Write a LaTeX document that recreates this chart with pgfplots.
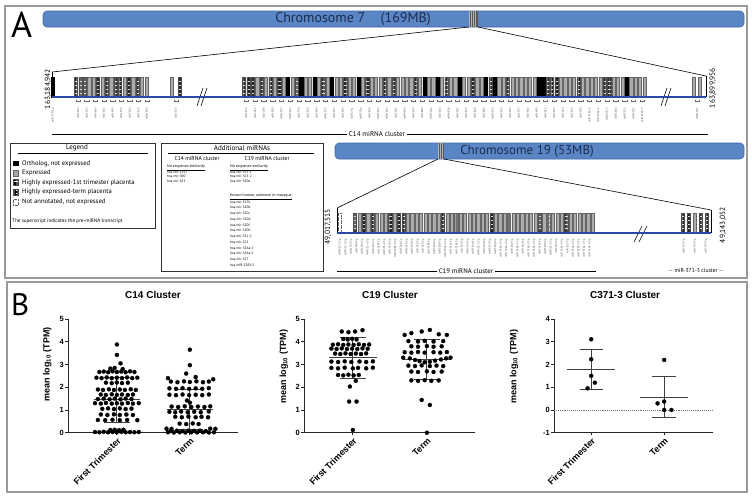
\documentclass[border=0pt]{standalone}
\usepackage{fontspec}
\setmainfont{Liberation Sans}
\newfontfamily\myr{PT Sans}
\usepackage{pgfplots}
\pgfplotsset{compat=1.18}
\usetikzlibrary{patterns,patterns.meta}

\definecolor{chrom}{HTML}{5A86C5}
\definecolor{chromedge}{HTML}{3E68A6}
\definecolor{chromtext}{HTML}{1D2B4F}
\definecolor{trackblue}{HTML}{2B49A8}
\definecolor{frame}{HTML}{9A9A9A}

\tikzset{
  lbl/.style={font=\myr\fontsize{2.8}{3}\selectfont, rotate=90, anchor=east, inner sep=0pt, text=black!75},
  txt/.style={font=\myr\fontsize{#1}{#1}\selectfont, inner sep=0pt},
}

\pgfplotsset{
  mibar/.style={ybar, bar width=3.2pt, bar shift=0pt, line width=0.25pt},
  graybar/.style={mibar, fill=black!33, draw=black!60},
  blackbar/.style={mibar, fill=black, draw=black},
  stripebar/.style={mibar, draw=black!70, fill=black!15,
    postaction={pattern={Lines[angle=0,distance=1.35pt,line width=0.55pt]}, pattern color=black!85}},
  checkbar/.style={mibar, draw=black!60, fill=white,
    postaction={pattern={Hatch[angle=0,distance=1.3pt,line width=0.3pt]}, pattern color=black!55}},
  naibar/.style={mibar, draw=black!60, fill=white, densely dotted},
  trk/.style={x=1pt, y=20pt, xmin=0, xmax=752, ymin=0, ymax=1, hide axis, clip=false, anchor=south west},
  tline/.style={trackblue, line width=2.4pt, mark=none},
  gp/.style={scale only axis, height=113.7pt, anchor=south west, clip=false,
    axis x line*=bottom, axis y line*=left,
    axis line style={-, line width=0.9pt, black!85},
    tick align=outside, major tick length=2.6pt,
    tick style={line width=0.9pt, black!85},
    xtick={1,2}, xticklabels={First Trimester,Term},
    x tick label style={rotate=45, anchor=north east, inner sep=1pt,
      font=\bfseries\fontsize{9}{10}\selectfont},
    y tick label style={font=\bfseries\fontsize{7.5}{8}\selectfont, inner sep=1.5pt},
    /pgf/number format/assume math mode=true,
    ylabel={mean log\textsubscript{10} (TPM)},
    ylabel style={font=\bfseries\fontsize{9}{10}\selectfont, anchor=south},
    title style={font=\bfseries\fontsize{10}{12}\selectfont, anchor=center}},
  gpdots/.style={only marks, mark=*, mark size=2.05pt, mark options={fill=black, draw=black, line width=0.2pt}},
  sd/.style={line width=1pt, black!75, mark=none},
}

\begin{document}
\begin{tikzpicture}
\path[use as bounding box] (0,0) rectangle (752pt,-499pt);
\fill[white] (0,0) rectangle (752pt,-499pt);

\begin{scope}[x=1pt,y=-1pt]
% panel frames and letters
\draw[frame, line width=1.3pt] (5,6) rectangle (747,278);
\draw[frame, line width=1.3pt] (7,282) rectangle (747,492);
\node[txt=36, anchor=north west] at (11,12) {A};
\node[txt=31, anchor=north west] at (11,293) {B};

% chromosome 7
\draw[chromedge, fill=chrom, line width=0.6pt, rounded corners=4pt] (43,11) rectangle (744,27);
\fill[black!30] (469,11) rectangle (478,27);
\foreach \xx in {469.8,471.8,473.8,475.8,477.4} \draw[black!65, line width=0.6pt] (\xx,11)--(\xx,27);
\node[txt=14, text=chromtext] at (353,19.5) {Chromosome 7\hspace{1.1em}(169MB)};
\draw[line width=0.6pt] (469,27)--(52,72);
\draw[line width=0.6pt] (478,27)--(706,76);
\draw[line width=0.5pt] (52,72)--(52,97);
\draw[line width=0.5pt] (706,76)--(706,97);
\node[txt=7.5, rotate=90] at (48,89) {163,184,942};
\node[txt=7.5, rotate=90] at (712.7,88) {163,899,956};

% chromosome 19
\draw[chromedge, fill=chrom, line width=0.6pt, rounded corners=4pt] (335,143) rectangle (744,159);
\fill[black!30] (438,143) rectangle (444,159);
\foreach \xx in {438.8,440.8,442.8,443.6} \draw[black!65, line width=0.6pt] (\xx,143)--(\xx,159);
\node[txt=13, text=chromtext] at (527,151.5) {Chromosome 19 (53MB)};
\draw[line width=0.6pt] (438,159)--(337,208);
\draw[line width=0.6pt] (444,159)--(711,210);
\draw[line width=0.5pt] (337,208)--(337,233);
\draw[line width=0.5pt] (711,210)--(711,233);
\node[txt=7.5, rotate=90] at (328,227) {49,017,515};
\node[txt=7.5, rotate=90] at (723,225) {49,143,052};

% cluster brackets
\draw[line width=0.6pt] (52,134)--(708,134);
\node[txt=7, fill=white, inner xsep=2pt, inner ysep=1pt] at (377,134) {C14 miRNA cluster};
\draw[line width=0.6pt] (337,271)--(596,271);
\node[txt=6.8, fill=white, inner xsep=2pt, inner ysep=1pt] at (466,271) {C19 miRNA cluster};
\node[txt=5.6] at (696,271) {-- miR-371-3 cluster --};

% C14 names
\node[lbl] at (53,108) {miR-770-5p};
\foreach \n [count=\k from 0] in {miR-493,miR-337,miR-665,miR-431,miR-433,miR-127,miR-432,miR-136,miR-1193}
  {\pgfmathsetmacro\xx{78.2+8.6*\k}\node[lbl] at (\xx,108) {\n};
   \draw[black!60, line width=0.25pt] (\xx-2.2,99.5)--(\xx-2.2,101.5)--(\xx+2.2,101.5)--(\xx+2.2,99.5);}
\node[lbl] at (176,108) {miR-370};
\draw[black!60, line width=0.25pt] (173.8,99.5)--(173.8,101.5)--(178.2,101.5)--(178.2,99.5);
\foreach \n [count=\k from 0] in {miR-379,miR-411,miR-299,miR-380,miR-1197,miR-323a,miR-758,miR-329,miR-494,miR-1193,
  miR-543,miR-495,miR-376c,miR-376a,miR-654,miR-376b,miR-1185,miR-381,miR-487b,miR-539,miR-889,miR-544a,miR-655,
  miR-487a,miR-382,miR-134,miR-668,miR-485,miR-323b,miR-154,miR-496,miR-377,miR-541,miR-409,miR-412,miR-369,
  miR-410,miR-656,miR-300,miR-1185-2,miR-376a-2,miR-329-2,miR-543b,miR-3125,miR-5701,miR-1247-2}
  {\pgfmathsetmacro\xx{246.2+8.8*\k}\node[lbl] at (\xx,108) {\n};
   \draw[black!60, line width=0.25pt] (\xx-2.2,99.5)--(\xx-2.2,101.5)--(\xx+2.2,101.5)--(\xx+2.2,99.5);}
\node[lbl] at (697,108) {miR-1247};
\draw[black!60, line width=0.25pt] (694.8,99.5)--(694.8,101.5)--(699.2,101.5)--(699.2,99.5);

% C19 names
\foreach \n [count=\k from 0] in {miR-512-1,miR-512-2,miR-1323,miR-498,miR-520e,miR-515-1,miR-519e,miR-520f,
  miR-515-2,miR-519c,miR-1283-1,miR-520a,miR-526b,miR-519b,miR-525,miR-523,miR-518f,miR-520b,miR-518b,
  miR-526a-1,miR-520c,miR-518c,miR-524,miR-517a,miR-519d,miR-521-2,miR-520d,miR-517b,miR-520g,miR-516b-2,
  miR-526a-2,miR-518e,miR-518a-1,miR-518d,miR-516b-1,miR-518a-2,miR-517c,miR-520h,miR-521-1,miR-522,
  miR-519a-1,miR-527,miR-516a-1,miR-1283-2,miR-516a-2,miR-519a-2}
  {\pgfmathsetmacro\xx{340+5.55*\k}\node[lbl] at (\xx,239) {\n-3p};}
\node[lbl] at (684,239) {miR-371-3p};
\node[lbl] at (695,239) {miR-372-3p};
\node[lbl] at (706,239) {miR-373-3p};

% break marks
\draw[line width=0.6pt] (197,106)--(203,88) (201,106)--(207,88);
\draw[line width=0.6pt] (661,106)--(667,88) (665,106)--(671,88);
\draw[line width=0.6pt] (634,242)--(642,226) (639,242)--(647,226);

% legend box
\draw[black!80, line width=0.7pt] (10,143) rectangle (155,228);
\node[txt=7] at (77,148) {Legend};
\draw[line width=0.8pt] (18,153.5)--(148,153.5);
\fill[black] (13,160.5) rectangle (18.5,166);
\draw[black!60, fill=black!35] (13,170.5) rectangle (18.5,176);
\draw[black!70, pattern={Lines[angle=0,distance=1.3pt,line width=0.5pt]}] (13,179.5) rectangle (18.5,185);
\draw[black!70, pattern={Hatch[angle=0,distance=1.4pt,line width=0.35pt]}] (13,189.5) rectangle (18.5,195);
\draw[black!60, densely dotted] (13,199.5) rectangle (18.5,205);
\node[txt=6.6, anchor=west] at (22,163.5) {Ortholog, not expressed};
\node[txt=6.6, anchor=west] at (22,173.3) {Expressed};
\node[txt=6.6, anchor=west] at (22,182.5) {Highly expressed-1st trimester placenta};
\node[txt=6.6, anchor=west] at (22,192.3) {Highly expressed-term placenta};
\node[txt=6.6, anchor=west] at (22,202.3) {Not annotated, not expressed};
\node[txt=5.1, anchor=west] at (12,221) {The superscript indicates the pre-miRNA transcript};

% additional miRNAs box
\draw[black!80, line width=0.7pt] (161,143) rectangle (323,271);
\node[txt=7] at (242,148) {Additional miRNAs};
\draw[line width=0.8pt] (168,153.5)--(314,153.5);
\node[txt=5.6] at (197,158.5) {C14 miRNA cluster};
\node[txt=5.6] at (267,158.5) {C19 miRNA cluster};
\node[txt=3.9, anchor=west] at (167,168) {\underline{No sequence similarity}};
\node[txt=3.9, anchor=west] at (230,168) {\underline{No sequence similarity}};
\foreach \n [count=\k from 0] in {hsa-mir-1197,hsa-mir-300,hsa-mir-655}
  {\node[txt=3.5, anchor=west] at (167,172.5+4.2*\k) {\n};}
\foreach \n [count=\k from 0] in {hsa-mir-515-1,hsa-mir-515-2,hsa-mir-520e}
  {\node[txt=3.5, anchor=west] at (230,172.5+4.2*\k) {\n};}
\node[txt=3.9, anchor=west] at (230,197) {\underline{Known human, unknown in macaque}};
\foreach \n [count=\k from 0] in {hsa-mir-517b,hsa-mir-520b,hsa-mir-520c,hsa-mir-520d,hsa-mir-520f,hsa-mir-520h,
  hsa-mir-521-2,hsa-mir-522,hsa-mir-526a-1,hsa-mir-526a-2,hsa-mir-527,hsa-miR-1283-2}
  {\node[txt=3.5, anchor=west] at (230,202+5.75*\k) {\n};}
\end{scope}

% ---------- C14 track ----------
\begin{axis}[trk, at={(0pt,-97pt)}]
\addplot[blackbar] coordinates {(53,1) (288.0,1) (301.2,1) (314.4,1) (332.0,1) (358.4,1) (424.4,1) (437.6,1)
  (459.6,1) (486.0,1) (494.8,1) (538.8,1) (543.2,1) (626.8,1)};
\addplot[stripebar] coordinates {(76,1) (80.4,1) (84.8,1) (98,1) (106.8,1) (115.6,1) (120,1) (128.8,1) (137.6,1)
  (180,1) (244.0,1) (248.4,1) (252.8,1) (261.6,1) (270.4,1) (279.2,1) (296.8,1) (323.2,1) (345.2,1) (367.2,1)
  (384.8,1) (393.6,1) (415.6,1) (446.4,1) (472.8,1) (490.4,1) (508.0,1) (547.6,1) (552.0,1) (556.4,1) (578.4,1)
  (604.8,1) (609.2,1)};
\addplot[graybar] coordinates {(89.2,1) (93.6,1) (102.4,1) (111.2,1) (124.4,1) (133.2,1) (142,1) (146.4,1) (172,1)
  (257.2,1) (266.0,1) (274.8,1) (283.6,1) (292.4,1) (305.6,1) (310.0,1) (318.8,1) (327.6,1) (336.4,1) (340.8,1)
  (349.6,1) (354.0,1) (362.8,1) (371.6,1) (376.0,1) (380.4,1) (389.2,1) (398.0,1) (402.4,1) (406.8,1) (411.2,1)
  (420.0,1) (428.8,1) (433.2,1) (442.0,1) (450.8,1) (455.2,1) (464.0,1) (468.4,1) (477.2,1) (481.6,1) (499.2,1)
  (503.6,1) (512.4,1) (516.8,1) (521.2,1) (525.6,1) (530.0,1) (534.4,1) (560.8,1) (565.2,1) (569.6,1) (574.0,1)
  (582.8,1) (587.2,1) (591.6,1) (596.0,1) (600.4,1) (613.6,1) (618.0,1) (622.4,1) (631.2,1) (635.6,1) (640.0,1)
  (644.4,1) (694,1) (700,1)};
\addplot[tline] coordinates {(52,0) (706,0)};
\end{axis}

% ---------- C19 track ----------
\begin{axis}[trk, at={(0pt,-233pt)}]
\addplot[naibar] coordinates {(340,1)};
\addplot[stripebar] coordinates {(355,1) (363.8,1) (372.6,1) (390.2,1) (399,1) (403.4,1) (443,1) (491.4,1)
  (539.8,1) (566.2,1) (682.7,1) (689,1) (701,1) (707,1)};
\addplot[checkbar] coordinates {(456.2,1) (509,1) (548.6,1)};
\addplot[graybar] coordinates {(359.4,1) (368.2,1) (377,1) (381.4,1) (385.8,1) (394.6,1) (407.8,1) (412.2,1)
  (416.6,1) (421,1) (425.4,1) (429.8,1) (434.2,1) (438.6,1) (447.4,1) (451.8,1) (460.6,1) (465,1) (469.4,1)
  (473.8,1) (478.2,1) (482.6,1) (487,1) (495.8,1) (500.2,1) (504.6,1) (513.4,1) (517.8,1) (522.2,1) (526.6,1)
  (531,1) (535.4,1) (544.2,1) (553,1) (557.4,1) (561.8,1) (570.6,1) (575,1) (579.4,1) (583.8,1) (588.2,1)
  (592.6,1) (695,1)};
\addplot[tline] coordinates {(337,0) (711,0)};
\addplot[only marks, mark=o, mark size=1.1pt, black!85, mark options={fill=white, line width=0.35pt}]
  coordinates {(355,0.1) (390.2,0.1) (399,0.1) (443,0.1) (491.4,0.1) (539.8,0.1) (566.2,0.1) (682.7,0.1) (707,0.1)};
\end{axis}

% ---------- C14 cluster scatter ----------
\begin{axis}[gp, at={(68pt,-432.7pt)}, width=170pt,
  xmin=0.33, xmax=2.66, ymin=0, ymax=5, ytick={0,1,2,3,4,5},
  title={C14 Cluster}, title style={at={(axis description cs:0.5,1.158)}},
  ylabel style={at={(axis description cs:-0.076,0.6)}}]
\addplot[gpdots] coordinates {
 (1.00,3.88) (1.00,3.42) (1.05,3.05) (0.91,2.82) (0.97,2.85) (1.08,2.80)
 (0.76,2.67) (0.82,2.69) (0.88,2.66) (0.94,2.70) (1.00,2.67) (1.06,2.69) (1.12,2.66) (1.18,2.70) (1.24,2.67)
 (0.72,2.42) (0.79,2.40) (0.86,2.43) (0.93,2.40) (1.00,2.42) (1.07,2.40) (1.14,2.43) (1.21,2.40) (1.28,2.42)
 (0.85,2.20) (0.93,2.18) (1.00,2.21) (1.07,2.18) (1.15,2.20)
 (0.74,1.90) (0.81,1.88) (0.89,1.91) (0.96,1.88) (1.04,1.90) (1.11,1.88) (1.19,1.91) (1.26,1.88)
 (0.78,1.68) (0.85,1.66) (0.93,1.69) (1.00,1.66) (1.07,1.68) (1.15,1.66) (1.22,1.68)
 (0.74,1.48) (0.82,1.50) (0.90,1.47) (0.97,1.50) (1.05,1.47) (1.12,1.50) (1.20,1.48)
 (0.70,1.30) (0.78,1.28) (0.85,1.31) (0.93,1.28) (1.00,1.30) (1.07,1.28) (1.15,1.31) (1.22,1.28) (1.30,1.30)
 (0.80,1.05) (0.88,1.07) (0.96,1.04) (1.04,1.07) (1.12,1.04) (1.20,1.06)
 (0.78,0.80) (0.87,0.78) (0.96,0.81) (1.04,0.78) (1.13,0.80) (1.22,0.78)
 (0.74,0.56) (0.84,0.55) (0.94,0.57) (1.04,0.55) (1.14,0.56) (1.28,0.55)
 (0.70,0.03) (0.76,0.02) (0.82,0.04) (0.88,0.02) (0.94,0.03) (1.00,0.02) (1.06,0.04) (1.12,0.02) (1.18,0.03) (1.24,0.02) (1.30,0.03)
 (0.91,0.12) (0.97,0.13) (1.03,0.11) (1.09,0.13)};
\addplot[gpdots] coordinates {
 (2.00,3.65) (2.00,2.97) (1.95,2.60) (2.08,2.45) (1.70,2.40) (2.32,2.35)
 (1.74,2.25) (1.83,2.22) (1.92,2.26) (2.00,2.23) (2.09,2.26) (2.18,2.22) (2.26,2.25)
 (1.72,1.95) (1.81,1.93) (1.90,1.96) (1.99,1.93) (2.08,1.95) (2.17,1.93) (2.26,1.96)
 (1.72,1.67) (1.81,1.65) (1.90,1.68) (1.99,1.65) (2.08,1.67) (2.17,1.65) (2.26,1.68)
 (1.96,1.42) (2.00,1.32)
 (1.75,1.15) (1.84,1.13) (1.93,1.16) (2.02,1.13) (2.11,1.15) (2.20,1.13) (2.28,1.16)
 (1.72,0.92) (1.80,0.90) (1.88,0.93) (1.97,0.90) (2.06,0.92) (2.15,0.90) (2.26,0.93)
 (1.80,0.70) (1.89,0.68) (1.98,0.71) (2.08,0.68) (2.16,0.70) (2.25,0.68)
 (1.86,0.40) (1.95,0.38) (2.04,0.41) (2.12,0.38)
 (1.68,0.18) (1.75,0.17) (2.28,0.18) (2.35,0.17)
 (1.74,0.08) (1.82,0.09) (1.90,0.07) (1.98,0.09) (2.06,0.08) (2.14,0.09) (2.22,0.07)
 (1.70,0.02) (1.78,0.01) (1.86,0.02) (1.94,0.01) (2.02,0.02) (2.10,0.01) (2.18,0.02) (2.26,0.01) (2.33,0.02)};
\addplot[sd] coordinates {(0.68,1.44) (1.32,1.44)};
\addplot[sd] coordinates {(1,0.46) (1,2.42)};
\addplot[sd] coordinates {(0.82,2.42) (1.18,2.42)};
\addplot[sd] coordinates {(0.82,0.46) (1.18,0.46)};
\addplot[sd] coordinates {(1.68,1.02) (2.32,1.02)};
\addplot[sd] coordinates {(2,0.12) (2,1.92)};
\addplot[sd] coordinates {(1.82,1.92) (2.18,1.92)};
\addplot[sd] coordinates {(1.82,0.12) (2.18,0.12)};
\end{axis}

% ---------- C19 cluster scatter ----------
\begin{axis}[gp, at={(304pt,-432.7pt)}, width=171pt,
  xmin=0.34, xmax=2.65, ymin=0, ymax=5, ytick={0,1,2,3,4,5},
  title={C19 Cluster}, title style={at={(axis description cs:0.503,1.158)}},
  ylabel style={at={(axis description cs:-0.072,0.58)}}]
\addplot[gpdots] coordinates {
 (0.85,4.45) (0.94,4.42) (1.03,4.45) (1.13,4.51)
 (0.87,4.12) (0.93,4.10) (0.99,4.13) (1.05,4.10)
 (0.73,3.87) (0.80,3.89) (0.87,3.86) (0.94,3.88) (1.01,3.86) (1.08,3.89) (1.15,3.86) (1.22,3.88)
 (0.71,3.70) (0.78,3.68) (0.85,3.71) (0.92,3.68) (0.99,3.70) (1.06,3.68) (1.13,3.71) (1.20,3.69)
 (0.76,3.48) (0.83,3.46) (0.90,3.49) (0.97,3.46) (1.04,3.48) (1.11,3.46) (1.18,3.49)
 (0.71,3.13) (0.80,3.11) (0.89,3.14) (0.98,3.11) (1.09,3.13) (1.18,3.11) (1.27,3.14)
 (0.71,2.85) (0.80,2.83) (0.89,2.86) (1.00,2.83) (1.07,2.85) (1.18,2.83) (1.27,2.86)
 (0.80,2.54) (0.87,2.52) (0.94,2.55) (1.01,2.52) (1.08,2.54)
 (1.04,2.28) (0.96,2.03) (0.95,1.37) (1.05,1.37) (1.00,0.12)};
\addplot[gpdots] coordinates {
 (1.79,4.38) (1.93,4.45) (2.04,4.52) (2.16,4.33) (1.70,4.30) (2.27,4.30)
 (1.75,4.03) (1.88,4.01) (1.97,4.04) (2.09,4.01) (2.22,4.03)
 (1.79,3.80) (1.88,3.78) (2.00,3.81) (2.09,3.78) (2.20,3.80)
 (1.70,3.54) (1.79,3.52) (1.88,3.55) (1.97,3.52) (2.09,3.54) (2.18,3.52) (2.27,3.55)
 (1.68,3.30) (1.77,3.27) (1.84,3.20) (1.90,3.15) (1.97,3.10) (2.04,3.12) (2.11,3.17) (2.19,3.22) (2.26,3.27) (2.32,3.30)
 (1.75,2.95) (1.84,2.93) (1.93,2.96) (2.04,2.93) (2.13,2.95) (2.22,2.93)
 (1.79,2.69) (1.88,2.67) (2.00,2.70) (2.09,2.67) (2.20,2.69)
 (1.79,2.30) (1.88,2.28) (1.97,2.31) (2.06,2.28) (2.16,2.30)
 (1.93,1.44) (2.04,1.22) (2.00,0.00)};
\addplot[sd] coordinates {(0.68,3.29) (1.32,3.29)};
\addplot[sd] coordinates {(1,2.40) (1,4.18)};
\addplot[sd] coordinates {(0.82,4.18) (1.18,4.18)};
\addplot[sd] coordinates {(0.82,2.40) (1.18,2.40)};
\addplot[sd] coordinates {(1.68,3.20) (2.32,3.20)};
\addplot[sd] coordinates {(2,2.32) (2,4.08)};
\addplot[sd] coordinates {(1.82,4.08) (2.18,4.08)};
\addplot[sd] coordinates {(1.82,2.32) (2.18,2.32)};
\end{axis}

% ---------- C371-3 cluster scatter ----------
\begin{axis}[gp, at={(554pt,-432.7pt)}, width=159pt,
  xmin=0.49, xmax=2.67, ymin=-1, ymax=4, ytick={-1,0,1,2,3,4},
  title={C371-3 Cluster}, title style={at={(axis description cs:0.447,1.158)}},
  ylabel style={at={(axis description cs:-0.203,0.58)}}]
\addplot[densely dotted, black!55, line width=0.9pt, mark=none] coordinates {(0.49,0) (2.67,0)};
\addplot[gpdots] coordinates {(1.00,3.11) (1.00,2.23) (1.00,1.50) (1.05,1.20) (0.95,0.95)};
\addplot[gpdots] coordinates {(2.00,2.20) (1.91,0.29) (2.00,0.37) (2.00,0.00) (2.10,0.00)};
\addplot[sd] coordinates {(0.67,1.79) (1.33,1.79)};
\addplot[sd] coordinates {(1,0.91) (1,2.64)};
\addplot[sd] coordinates {(0.84,2.64) (1.16,2.64)};
\addplot[sd] coordinates {(0.84,0.91) (1.16,0.91)};
\addplot[sd] coordinates {(1.67,0.57) (2.33,0.57)};
\addplot[sd] coordinates {(2,-0.35) (2,1.48)};
\addplot[sd] coordinates {(1.84,1.48) (2.16,1.48)};
\addplot[sd] coordinates {(1.84,-0.35) (2.16,-0.35)};
\end{axis}
\end{tikzpicture}
\end{document}
